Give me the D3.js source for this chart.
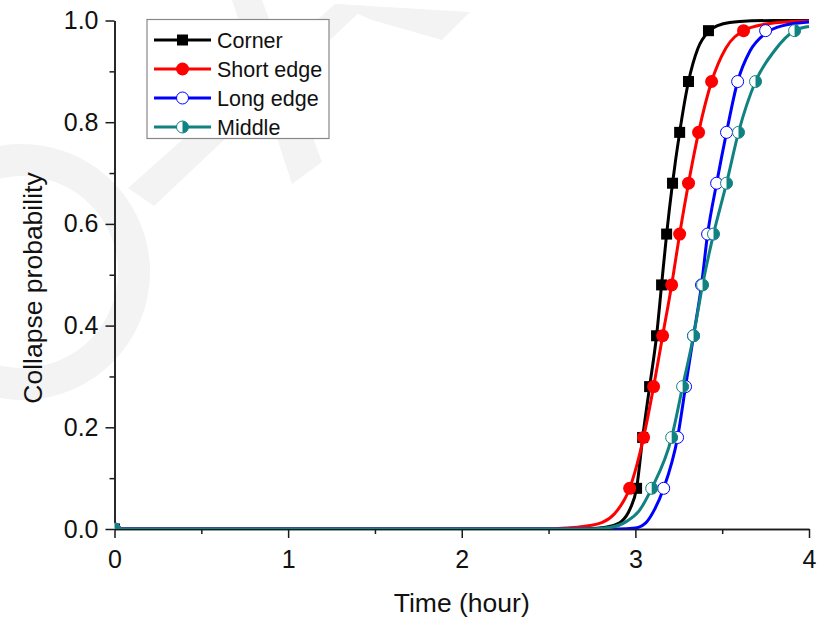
<!DOCTYPE html>
<html>
<head>
<meta charset="utf-8">
<script src="https://cdn.jsdelivr.net/npm/d3@7"></script>
<style>
  body { margin: 0; background: #fff; }
  svg { display: block; font-family: "Liberation Sans", Arial, sans-serif; }
</style>
</head>
<body>
<svg id="chart" width="823" height="617"></svg>
<script>
// probability levels where the markers sit (same for every series)
var markerProb = [0, 0.08, 0.18, 0.28, 0.38, 0.48, 0.58, 0.68, 0.78, 0.88, 0.98];

// marker times (hour) per series
var cornerT = [0, 3.007, 3.042, 3.082, 3.122, 3.151, 3.180, 3.214, 3.255, 3.306, 3.421];
var shortT  = [0, 2.967, 3.047, 3.105, 3.157, 3.209, 3.255, 3.306, 3.364, 3.439, 3.623];
var longT   = [0, 3.163, 3.243, 3.289, 3.335, 3.381, 3.416, 3.468, 3.525, 3.589, 3.750];
var middleT = [0, 3.094, 3.209, 3.272, 3.335, 3.387, 3.450, 3.525, 3.594, 3.692, 3.917];

// fitted curves, [time, probability]
var cornerCurve = [[0,0],[2.6,0],[2.75,0.001],[2.85,0.005],[2.92,0.015],[2.97,0.04],[3.007,0.08],[3.042,0.18],
  [3.082,0.28],[3.122,0.38],[3.151,0.48],[3.18,0.58],[3.214,0.68],[3.255,0.78],[3.306,0.88],[3.36,0.945],
  [3.421,0.978],[3.5,0.993],[3.6,0.998],[3.8,1],[4,1]];
var shortCurve = [[0,0],[2.5,0],[2.6,0.002],[2.7,0.005],[2.81,0.013],[2.88,0.03],[2.967,0.08],[3.047,0.18],
  [3.105,0.28],[3.157,0.38],[3.209,0.48],[3.255,0.58],[3.306,0.68],[3.364,0.78],[3.439,0.88],[3.52,0.945],
  [3.623,0.98],[3.75,0.993],[3.9,0.998],[4,0.999]];
var longCurve = [[0,0],[2.9,0],[3.0,0.002],[3.06,0.012],[3.11,0.038],[3.163,0.08],[3.243,0.18],[3.289,0.28],
  [3.335,0.38],[3.381,0.48],[3.416,0.58],[3.468,0.68],[3.525,0.78],[3.589,0.88],[3.66,0.94],[3.75,0.975],
  [3.85,0.99],[4,0.997]];
var middleCurve = [[0,0],[2.7,0],[2.85,0.003],[2.95,0.015],[3.02,0.035],[3.094,0.08],[3.209,0.18],[3.272,0.28],
  [3.335,0.38],[3.387,0.48],[3.45,0.58],[3.525,0.68],[3.594,0.78],[3.692,0.88],[3.8,0.94],[3.917,0.98],[4,0.988]];

var xTicks = [0, 1, 2, 3, 4];
var xMinor = [0.5, 1.5, 2.5, 3.5];
var yTicks = [0, 0.2, 0.4, 0.6, 0.8, 1.0];
var yMinor = [0.1, 0.3, 0.5, 0.7, 0.9];

var series = [
  {name: "Corner",     color: "#000000", marker: "square", t: cornerT, curve: cornerCurve},
  {name: "Short edge", color: "#ff0000", marker: "dot",    t: shortT,  curve: shortCurve},
  {name: "Long edge",  color: "#0000ff", marker: "open",   t: longT,   curve: longCurve},
  {name: "Middle",     color: "#108282", marker: "half",   t: middleT, curve: middleCurve}
];

var svg = d3.select("#chart");
var plotL = 114.5, plotR = 809, plotT = 20.5, plotB = 529;

var x = d3.scaleLinear().domain([0, 4]).range([plotL, plotR]);
var y = d3.scaleLinear().domain([0, 1]).range([plotB, plotT]);

// faint watermark in the background
var wm = svg.append("g").attr("fill", "#f3f3f3").attr("stroke", "none");
wm.append("path").attr("d", "M128,188 L335,4 L366,6 L154,206 Z");
wm.append("path").attr("d", "M335,4 L470,12 L442,40 L372,20 Z");
wm.append("path").attr("d", "M232,0 L262,0 L322,162 L292,184 Z");
wm.append("path")
  .attr("d", d3.arc().innerRadius(96).outerRadius(128).startAngle(-0.25 * Math.PI).endAngle(1.2 * Math.PI)())
  .attr("transform", "translate(22,272)");

svg.append("clipPath").attr("id", "plotclip")
  .append("rect").attr("x", plotL).attr("y", plotT - 12).attr("width", plotR - plotL + 12).attr("height", plotB - plotT + 12);

// axes
var axisColor = "#1a1a1a";
var gx = svg.append("g").attr("transform", "translate(0," + plotB + ")")
  .call(d3.axisBottom(x).tickValues(xTicks).tickFormat(d3.format("d")).tickSize(9).tickSizeOuter(0).tickPadding(12));
var gxm = svg.append("g").attr("transform", "translate(0," + plotB + ")")
  .call(d3.axisBottom(x).tickValues(xMinor).tickFormat("").tickSize(5).tickSizeOuter(0));
var gy = svg.append("g").attr("transform", "translate(" + plotL + ",0)")
  .call(d3.axisLeft(y).tickValues(yTicks).tickFormat(d3.format(".1f")).tickSize(9).tickSizeOuter(0).tickPadding(7));
var gym = svg.append("g").attr("transform", "translate(" + plotL + ",0)")
  .call(d3.axisLeft(y).tickValues(yMinor).tickFormat("").tickSize(5).tickSizeOuter(0));

[gx, gxm, gy, gym].forEach(function(g){
  g.selectAll("path, line").attr("stroke", axisColor).attr("stroke-width", 1.5);
  g.selectAll("text").attr("fill", "#111").style("font-size", "25px").style("font-family", "Liberation Sans, Arial, sans-serif");
});

svg.append("text").attr("x", (plotL + plotR) / 2).attr("y", 612)
  .attr("text-anchor", "middle").style("font-size", "26.5px").attr("fill", "#111").text("Time (hour)");
svg.append("text").attr("transform", "translate(42,288) rotate(-90)")
  .attr("text-anchor", "middle").style("font-size", "26.5px").attr("fill", "#111").text("Collapse probability");

var line = d3.line().x(function(d){ return x(d[0]); }).y(function(d){ return y(d[1]); }).curve(d3.curveMonotoneX);

function drawMarker(g, kind, color, cx, cy, r) {
  if (kind == "square") {
    g.append("rect").attr("x", cx - r).attr("y", cy - r).attr("width", 2 * r).attr("height", 2 * r).attr("fill", color);
  } else if (kind == "dot") {
    g.append("circle").attr("cx", cx).attr("cy", cy).attr("r", r + 0.5).attr("fill", color);
  } else if (kind == "open") {
    g.append("circle").attr("cx", cx).attr("cy", cy).attr("r", r).attr("fill", "#fff").attr("stroke", color).attr("stroke-width", 1);
  } else {
    g.append("circle").attr("cx", cx).attr("cy", cy).attr("r", r).attr("fill", "#fff").attr("stroke", color).attr("stroke-width", 1);
    g.append("path").attr("d", "M" + cx + "," + (cy - r) + " A" + r + "," + r + " 0 0,1 " + cx + "," + (cy + r) + " Z").attr("fill", color);
  }
}

var plot = svg.append("g").attr("clip-path", "url(#plotclip)");
series.forEach(function(s){
  var g = plot.append("g");
  g.append("path").datum(s.curve).attr("d", line)
    .attr("fill", "none").attr("stroke", s.color).attr("stroke-width", 3).attr("stroke-linejoin", "round");
  s.t.forEach(function(t, i){
    drawMarker(g, s.marker, s.color, x(t), y(markerProb[i]), s.marker == "square" ? 5.5 : 6);
  });
});

// legend
var legend = svg.append("g");
legend.append("rect").attr("x", 147).attr("y", 19.5).attr("width", 182).attr("height", 119)
  .attr("fill", "#fff").attr("stroke", "#888").attr("stroke-width", 1.2);
series.forEach(function(s, i){
  var ly = 40 + i * 29;
  legend.append("line").attr("x1", 154).attr("x2", 211).attr("y1", ly).attr("y2", ly)
    .attr("stroke", s.color).attr("stroke-width", 3);
  drawMarker(legend, s.marker, s.color, 182.5, ly, s.marker == "square" ? 5.5 : 6);
  legend.append("text").attr("x", 217).attr("y", ly).attr("dy", "0.35em")
    .style("font-size", "21.5px").attr("fill", "#111").text(s.name);
});
</script>
</body>
</html>
